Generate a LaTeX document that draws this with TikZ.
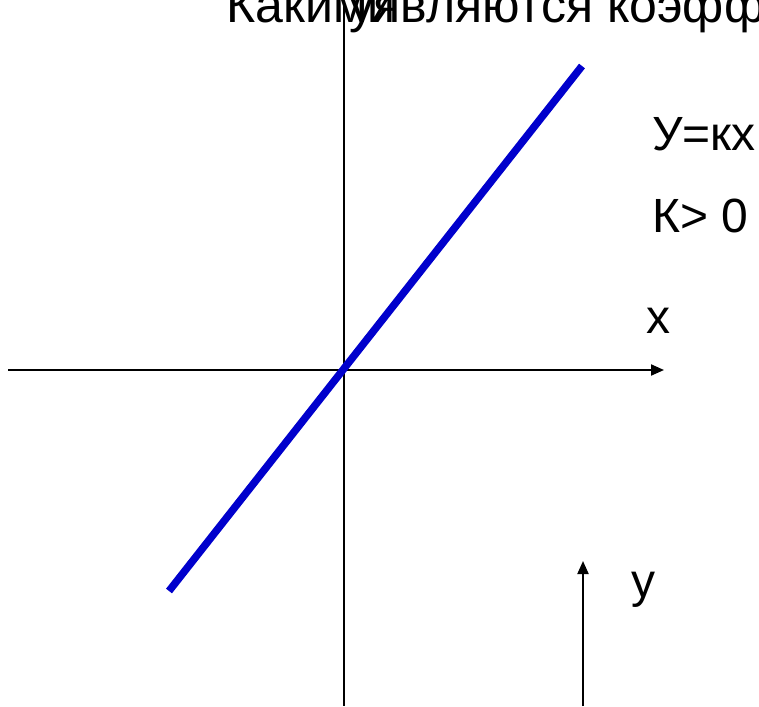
\documentclass[tikz,border=0pt]{standalone}
\usepackage{fontspec}
\setmainfont{Liberation Sans}
\usetikzlibrary{arrows.meta}
\definecolor{lineblue}{RGB}{0,0,204}
\begin{document}
\begin{tikzpicture}[x=1pt,y=-1pt,
  lbl/.style={font=\fontsize{48}{52}\selectfont, inner sep=0pt, anchor=base west},
  ttl/.style={font=\fontsize{50}{54}\selectfont, inner sep=0pt, anchor=base west},
  axis/.style={line width=2pt},
  arr/.style={axis,-{Triangle[length=13pt,width=11pt]}}]
\useasboundingbox (0,0) rectangle (759,706);
\node[ttl] (t1) at (226,23) {Какими};
\node[ttl] (t2) at (349,23) {уявляются коэффициенты};
\coordinate (vtop) at (344,3);
\coordinate (vbot) at (344,706);
\draw[axis] (vtop) -- (vbot);
\coordinate (hl) at (8,370);
\coordinate (hr) at (664,370);
\draw[arr] (hl) -- (hr);
\coordinate (ab) at (583,706);
\coordinate (at) at (583,561);
\draw[arr] (ab) -- (at);
\coordinate (b1) at (169,591);
\coordinate (b2) at (582,66);
\draw[lineblue, line width=7.5pt] (b1) -- (b2);
\node[lbl] (eq) at (652,150) {У=кх};
\node[lbl] (k) at (652,232) {К> 0};
\node[lbl] (xl) at (646,333) {x};
\node[lbl] (yl) at (631,597) {y};
\end{tikzpicture}
\end{document}
